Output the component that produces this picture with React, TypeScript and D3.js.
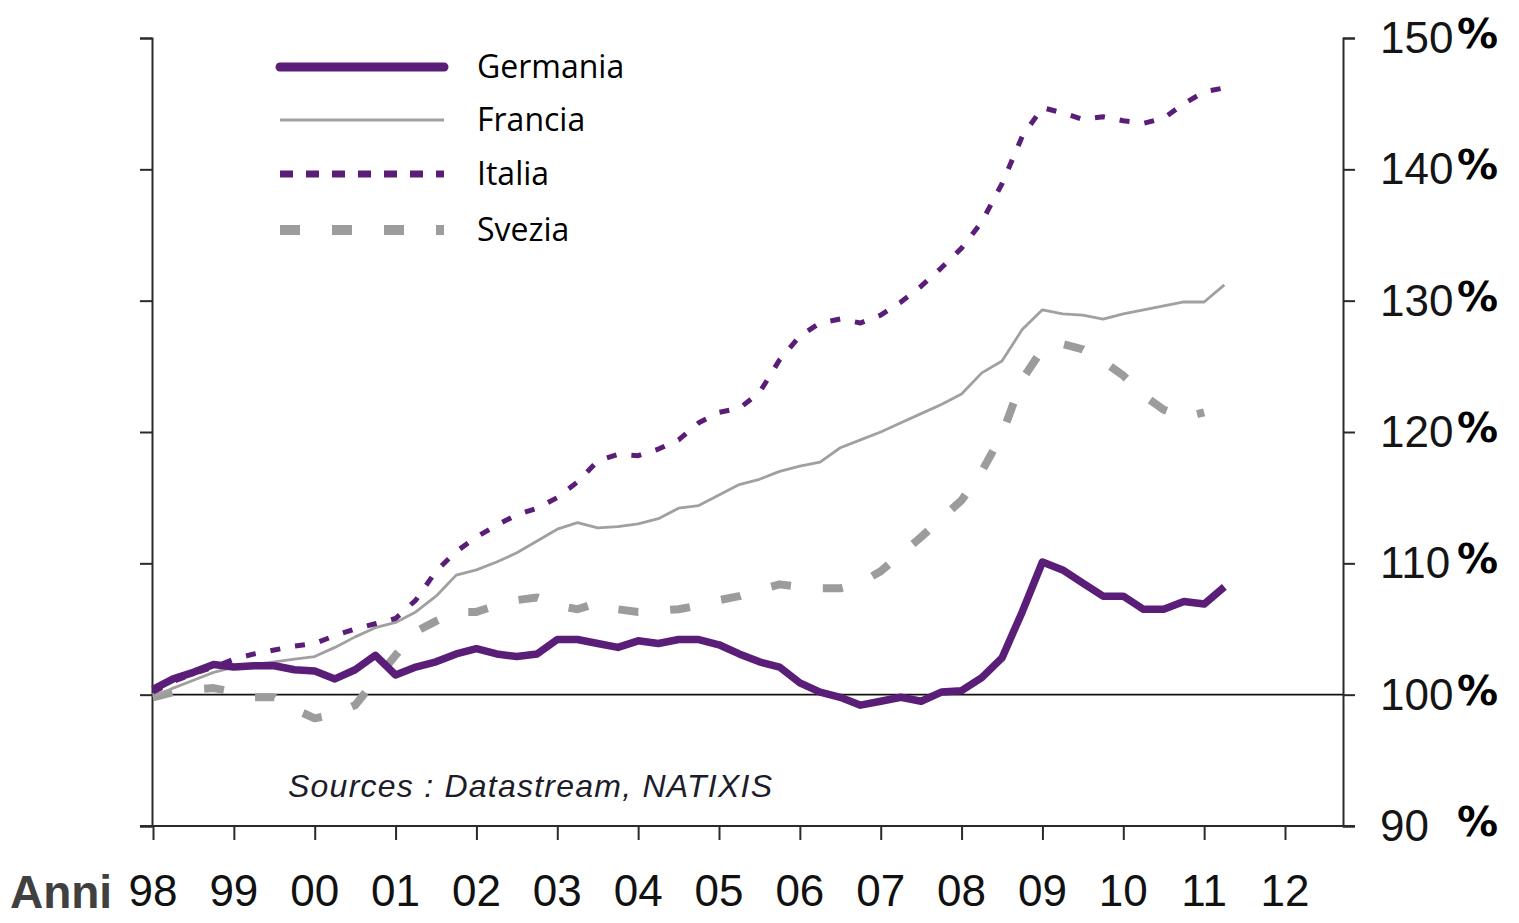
import React, { useEffect, useRef } from 'react';
import * as d3 from 'd3';

// quarterly values, index 100 = 1998 Q1
const startYear = 1998;
const yearLabels = ['98', '99', '00', '01', '02', '03', '04', '05', '06', '07', '08', '09', '10', '11', '12'];
const yTicks = [90, 100, 110, 120, 130, 140, 150];

const germania = [
  100.4, 101.2, 101.7, 102.3, 102.1, 102.2, 102.2, 101.9, 101.8, 101.2,
  101.9, 103.0, 101.5, 102.1, 102.5, 103.1, 103.5, 103.1, 102.9, 103.1,
  104.2, 104.2, 103.9, 103.6, 104.1, 103.9, 104.2, 104.2, 103.8, 103.1,
  102.5, 102.1, 100.9, 100.2, 99.8, 99.2, 99.5, 99.8, 99.5, 100.2,
  100.3, 101.3, 102.8, 106.3, 110.1, 109.5, 108.5, 107.5, 107.5, 106.5,
  106.5, 107.1, 106.9, 108.2
];
const francia = [
  99.8, 100.5, 101.1, 101.7, 102.1, 102.3, 102.5, 102.7, 102.9, 103.6,
  104.4, 105.1, 105.5, 106.3, 107.5, 109.1, 109.5, 110.1, 110.8, 111.7,
  112.6, 113.1, 112.7, 112.8, 113.0, 113.4, 114.2, 114.4, 115.2, 116.0,
  116.4, 117.0, 117.4, 117.7, 118.8, 119.4, 120.0, 120.7, 121.4, 122.1,
  122.9, 124.5, 125.4, 127.8, 129.3, 129.0, 128.9, 128.6, 129.0, 129.3,
  129.6, 129.9, 129.9, 131.2
];
const italia = [
  100.2, 101.0, 101.6, 102.1, 102.7, 103.1, 103.4, 103.7, 103.9, 104.5,
  105.0, 105.4, 105.8, 107.2, 109.4, 110.9, 112.0, 112.9, 113.7, 114.2,
  115.0, 116.2, 117.8, 118.3, 118.2, 118.7, 119.4, 120.7, 121.5, 121.8,
  123.0, 125.5, 127.3, 128.3, 128.6, 128.3, 128.9, 129.9, 131.1, 132.5,
  134.0, 136.0, 138.9, 142.5, 144.7, 144.3, 143.8, 144.0, 143.7, 143.5,
  143.9, 145.0, 145.9, 146.2
];
const svezia = [
  99.8, 100.2, 100.4, 100.5, 100.2, 99.8, 99.8, 98.9, 98.2, 98.5,
  99.2, 101.1, 103.0, 104.8, 105.6, 106.3, 106.3, 106.8, 107.2, 107.4,
  106.8, 106.5, 107.0, 106.5, 106.3, 106.4, 106.5, 106.8, 107.2, 107.5,
  108.0, 108.4, 108.2, 108.1, 108.1, 108.5, 109.4, 110.7, 112.0, 113.4,
  114.8, 117.0, 119.8, 124.0, 126.3, 126.7, 126.3, 125.4, 124.3, 122.8,
  121.7, 121.1, 121.5
];

const PURPLE = '#5a1e78';
const GREY = '#9c9c9c';

const series = [
  { name: 'Svezia', values: svezia, color: GREY, width: 8, dash: '20,32', legendWidth: 10, legendDash: '20,32' },
  { name: 'Francia', values: francia, color: '#a0a0a0', width: 2.8, dash: null, legendWidth: 3, legendDash: null },
  { name: 'Italia', values: italia, color: PURPLE, width: 5, dash: '10,15', legendWidth: 7, legendDash: '13,13' },
  { name: 'Germania', values: germania, color: PURPLE, width: 7.5, dash: null, legendWidth: 9, legendDash: null }
];
const legendOrder = ['Germania', 'Francia', 'Italia', 'Svezia'];

const App: React.FC = () => {
  const svgRef = useRef<SVGSVGElement>(null);
  const width = 1519;
  const height = 923;

  useEffect(() => {
    if (!svgRef.current) return;
    d3.select(svgRef.current).selectAll('*').remove();
    const svg = d3.select(svgRef.current);

    const left = 152;
    const right = 1343;
    const xScale = d3.scaleLinear().domain([1998, 2012]).range([153, 1285]);
    const yScale = d3.scaleLinear().domain([90, 150]).range([826, 38]);

    const axisColor = '#2a2a2a';

    // left axis (ticks only)
    const la = svg.append('g')
      .attr('transform', `translate(${left},0)`)
      .call(d3.axisLeft(yScale).tickValues(yTicks).tickSize(12).tickSizeOuter(12).tickFormat(() => ''));
    la.selectAll('path, line').attr('stroke', axisColor).attr('stroke-width', 2);

    // right axis
    const ra = svg.append('g')
      .attr('transform', `translate(${right},0)`)
      .call(d3.axisRight(yScale).tickValues(yTicks).tickSize(12).tickSizeOuter(12).tickFormat(() => ''));
    ra.selectAll('path, line').attr('stroke', axisColor).attr('stroke-width', 2);

    yTicks.forEach(t => {
      svg.append('text')
        .attr('x', 1380)
        .attr('y', yScale(t) + 15)
        .style('font-family', '"Liberation Sans", Arial, sans-serif')
        .style('font-size', '44px')
        .attr('fill', '#151515')
        .text(String(t));
      svg.append('text')
        .attr('x', 1457)
        .attr('y', yScale(t) + 10)
        .style('font-family', '"DejaVu Sans", sans-serif')
        .style('font-weight', 'bold')
        .style('font-size', '41px')
        .attr('fill', '#000')
        .text('%');
    });

    // x axis
    const xa = svg.append('g')
      .attr('transform', `translate(0,${yScale(90)})`)
      .call(d3.axisBottom(xScale)
        .tickValues(d3.range(yearLabels.length).map(i => startYear + i))
        .tickSize(14)
        .tickSizeOuter(0)
        .tickFormat(() => ''));
    xa.select('.domain').remove();
    xa.selectAll('line').attr('stroke', axisColor).attr('stroke-width', 2);
    svg.append('line')
      .attr('x1', left - 12).attr('x2', right + 12)
      .attr('y1', yScale(90)).attr('y2', yScale(90))
      .attr('stroke', axisColor).attr('stroke-width', 2);

    yearLabels.forEach((lab, i) => {
      svg.append('text')
        .attr('x', xScale(startYear + i))
        .attr('y', 906)
        .attr('text-anchor', 'middle')
        .style('font-family', '"Liberation Sans", Arial, sans-serif')
        .style('font-size', '44px')
        .attr('fill', '#111')
        .text(lab);
    });

    svg.append('text')
      .attr('x', 10)
      .attr('y', 908)
      .attr('textLength', 102)
      .style('font-family', '"Liberation Sans", Arial, sans-serif')
      .style('font-weight', 'bold')
      .style('font-size', '46px')
      .attr('fill', '#404040')
      .text('Anni');

    // 100% reference line
    svg.append('line')
      .attr('x1', left).attr('x2', right)
      .attr('y1', yScale(100)).attr('y2', yScale(100))
      .attr('stroke', '#111').attr('stroke-width', 1.8);

    // source note
    svg.append('text')
      .attr('x', 288)
      .attr('y', 797)
      .attr('textLength', 484)
      .attr('lengthAdjust', 'spacing')
      .style('font-family', '"Liberation Sans", Arial, sans-serif')
      .style('font-style', 'italic')
      .style('font-size', '32px')
      .attr('fill', '#1c1c2a')
      .text('Sources : Datastream, NATIXIS');

    // series lines
    series.forEach(s => {
      const line = d3.line<number>()
        .x((_, i) => xScale(startYear + i / 4))
        .y(d => yScale(d));
      svg.append('path')
        .datum(s.values)
        .attr('fill', 'none')
        .attr('stroke', s.color)
        .attr('stroke-width', s.width)
        .attr('stroke-linejoin', 'round')
        .attr('stroke-dasharray', s.dash)
        .attr('d', line);
    });

    // legend
    const legendY = [67, 120, 174, 230];
    legendOrder.forEach((name, k) => {
      const s = series.find(d => d.name === name)!;
      svg.append('line')
        .attr('x1', name === 'Germania' ? 280 : 280).attr('x2', 444)
        .attr('y1', legendY[k]).attr('y2', legendY[k])
        .attr('stroke', s.color)
        .attr('stroke-width', s.legendWidth)
        .attr('stroke-linecap', name === 'Germania' ? 'round' : 'butt')
        .attr('stroke-dasharray', s.legendDash);
      svg.append('text')
        .attr('x', 477)
        .attr('y', legendY[k] + 11)
        .style('font-family', '"Open Sans", Lato, sans-serif')
        .style('font-size', '32px')
        .attr('fill', '#000')
        .text(name);
    });
  }, []);

  return (
    <div style={{ position: 'absolute', left: 0, top: 0, background: '#fff' }}>
      <svg ref={svgRef} width={width} height={height}></svg>
    </div>
  );
};

export default App;
